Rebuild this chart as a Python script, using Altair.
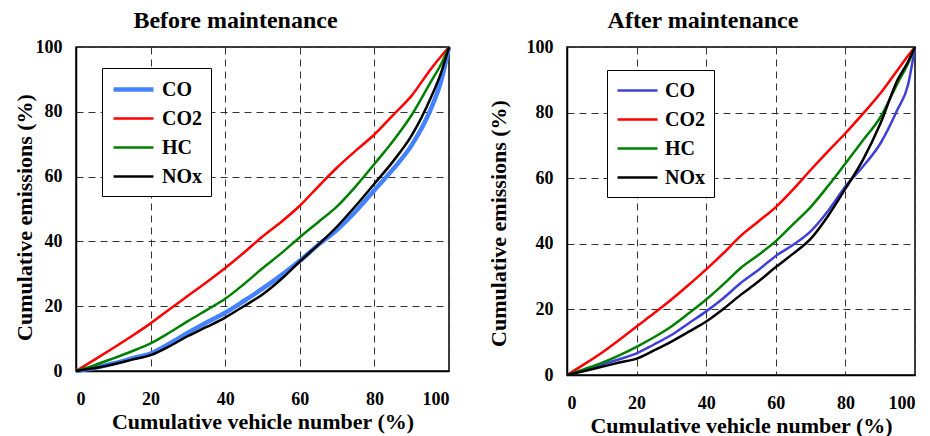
import altair as alt
import pandas as pd

# Cumulative vehicle number (%)
x_pct = [0, 5, 10, 15, 20, 25, 30, 35, 40, 45, 50, 55, 60, 65, 70, 75, 80, 85, 90, 95, 98, 100]

# Before maintenance - cumulative emissions (%)
before_co = [0, 1, 2.3, 3.9, 5.4, 8.4, 11.8, 15, 18, 21.6, 25.4, 29.5, 34, 39, 43.6, 49.3, 55.8, 62.3, 69.7, 80.5, 90, 100]
before_co2 = [0, 3.5, 7.1, 10.8, 14.7, 19, 23.2, 27.4, 31.8, 36.5, 41.5, 46, 51, 57, 62.8, 68, 73, 79, 85, 93, 97.3, 100]
before_hc = [0, 1.8, 3.9, 6.1, 8.5, 11.8, 15.4, 18.8, 22.3, 26.8, 31.7, 36.3, 41.3, 46, 50.8, 57, 63.9, 71, 79, 89, 95, 100]
before_nox = [0, 0.9, 2.1, 3.5, 4.9, 7.6, 10.8, 13.6, 16.5, 20, 23.6, 28.3, 33.8, 39, 44.6, 51, 57.8, 64.7, 72.7, 84, 92.5, 100]

# After maintenance - cumulative emissions (%)
after_co = [0, 1.5, 3.2, 4.8, 6.6, 9.3, 12.2, 15.8, 19.4, 23.5, 28.1, 32, 36.3, 39.7, 43.8, 50, 57.5, 63.5, 70.5, 81, 88.5, 100]
after_co2 = [0, 3.3, 6.8, 10.7, 14.8, 18.8, 23, 27.5, 32.2, 37.2, 42.5, 46.8, 51.2, 56.6, 62.5, 68.2, 73.7, 79.6, 85.8, 93, 97.3, 100]
after_hc = [0, 1.8, 3.7, 6, 8.6, 11.5, 14.8, 18.8, 23, 27.7, 32.7, 36.6, 40.8, 46, 51.2, 57.6, 64.5, 71.5, 78.5, 89, 95, 100]
after_nox = [0, 1.2, 2.5, 3.8, 5, 7.5, 10.2, 13.2, 16.3, 20.2, 24.5, 28.5, 32.9, 37, 41.5, 48.5, 56.8, 65.5, 76.5, 90, 95.5, 100]

series = ["CO", "CO2", "HC", "NOx"]
tick_values = [0, 20, 40, 60, 80, 100]

FONT = "Liberation Serif"


def make_df(values):
    rows = []
    for s, ys in zip(series, values):
        for xv, yv in zip(x_pct, ys):
            rows.append({"x": xv, "y": yv, "series": s})
    return pd.DataFrame(rows)


def panel(title, df, colors, widths, lx, ly, w, h, title_x, title_y, title_dx):
    legend = alt.Legend(
        title=None,
        orient="none",
        legendX=lx,
        legendY=ly,
        strokeColor="black",
        fillColor="white",
        padding=9,
        rowPadding=7,
        symbolType="M-1,0H3",
        symbolSize=400,
        labelOffset=26,
        labelFont=FONT,
        labelFontSize=20,
        labelFontWeight="bold",
        labelColor="black",
    )
    return (
        alt.Chart(df)
        .mark_line(interpolate="monotone")
        .encode(
            x=alt.X(
                "x:Q",
                scale=alt.Scale(domain=[0, 100], nice=False),
                axis=alt.Axis(
                    values=tick_values,
                    title="Cumulative vehicle number (%)",
                    ticks=False,
                    labelPadding=19,
                    titlePadding=3,
                ),
            ),
            y=alt.Y(
                "y:Q",
                scale=alt.Scale(domain=[0, 100], nice=False),
                axis=alt.Axis(
                    values=tick_values,
                    title="Cumulative emissions (%)",
                    ticks=False,
                    labelPadding=14,
                    titleX=title_x,
                    titleY=title_y,
                ),
            ),
            color=alt.Color(
                "series:N",
                scale=alt.Scale(domain=series, range=colors),
                legend=legend,
            ),
            strokeWidth=alt.StrokeWidth(
                "series:N",
                scale=alt.Scale(type="ordinal", domain=series, range=widths),
                legend=legend,
            ),
        )
        .properties(
            width=w,
            height=h,
            title=alt.TitleParams(
                title,
                font=FONT,
                fontSize=24,
                fontWeight="bold",
                color="black",
                offset=5,
                dx=title_dx,
            ),
        )
    )


left = panel(
    "Before maintenance",
    make_df([before_co, before_co2, before_hc, before_nox]),
    ["#4482FF", "#FF0000", "#008000", "#000000"],
    [4.5, 2.5, 2.5, 2.5],
    26, 21, 373, 324, -40, 170, -27,
)
right = panel(
    "After maintenance",
    make_df([after_co, after_co2, after_hc, after_nox]),
    ["#4040D8", "#FF0000", "#008000", "#000000"],
    [2.5, 2.5, 2.5, 2.5],
    40, 23, 348, 328, -57, 176, -38,
)

chart = (
    alt.hconcat(left, right, spacing=27)
    .resolve_scale(color="independent", strokeWidth="independent")
    .properties(padding={"left": 4, "top": 0, "right": 0, "bottom": 0})
    .configure(font=FONT)
    .configure_view(stroke="black", strokeWidth=1.5)
    .configure_axis(
        labelFont=FONT,
        labelFontSize=18,
        labelFontWeight="bold",
        labelColor="black",
        titleFont=FONT,
        titleFontSize=22,
        titleFontWeight="bold",
        titleColor="black",
        domainColor="black",
        domainWidth=1.5,
        grid=True,
        gridColor="#333333",
        gridDash=[7, 5],
        gridWidth=1,
    )
)

chart.save("out.html", embed_options={"renderer": "svg", "actions": False})
